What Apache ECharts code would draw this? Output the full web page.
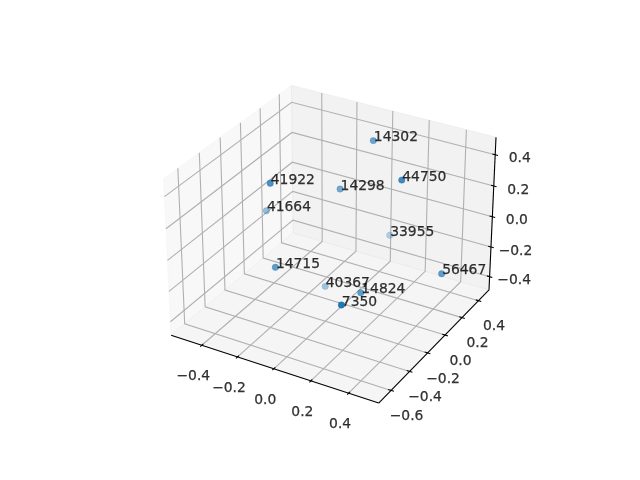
<!DOCTYPE html><html><head><meta charset="utf-8"><style>html,body{margin:0;background:#fff}#c{width:640px;height:480px}</style>
<script src="https://cdn.jsdelivr.net/npm/echarts@6/dist/echarts.min.js"></script></head><body><div id="c"></div><script>
var pointLabels=['14302','44750','14298','33955','41922','41664','14715','40367','14824','7350','56467'];
var xValues=[0.043,0.341,-0.072,-0.010,-0.217,-0.466,-0.173,-0.157,0.206,0.347,0.514];
var yValues=[0.227,-0.071,0.097,0.539,-0.347,0.051,-0.389,0.100,-0.223,-0.703,0.033];
var zValues=[0.476,0.467,0.195,-0.319,0.406,-0.052,-0.090,-0.482,-0.212,0.034,-0.121];
var xTicks=[-0.4,-0.2,0,0.2,0.4];
var yTicks=[-0.6,-0.4,-0.2,0,0.2,0.4];
var zTicks=[-0.4,-0.2,0,0.2,0.4];
var xLim=[-0.575,0.557],yLim=[-0.73,0.53],zLim=[-0.49,0.51];
var lims=[xLim,yLim,zLim];

// matplotlib-style 3D view: elev 30, azim -60, dist 10
var f=1.8294640721620434,nrm=Math.sqrt(41),A=[4*f/nrm,4*f/nrm,3*f/nrm];
var s3=Math.sqrt(3);
var N=[s3/4,-0.75,0.5],U=[s3/2,0.5,0],V=[-0.25,s3/4,s3/2];
function dot(a,b){return a[0]*b[0]+a[1]*b[1]+a[2]*b[2]}
function rel(p){return p.map(function(v,i){var l=lims[i],r=(l[1]-l[0])/(1+1/24);return (v-(l[0]+l[1])/2)/r*A[i]})}
function depth(p){return dot(rel(p),N)}
function proj(p){var c=rel(p),w=dot(c,N);return [dot(c,U)/(10-w),dot(c,V)/(10-w)]}
function fmt(v){var s=Math.abs(v).toFixed(1);return (v<0?'\u2212':'')+s}

var points=xValues.map(function(x,i){return [x,yValues[i],zValues[i]]});
var depths=points.map(depth),dMin=Math.min.apply(null,depths),dMax=Math.max.apply(null,depths);
var x0=xLim[0],x1=xLim[1],y0=yLim[0],y1=yLim[1],z0=zLim[0],z1=zLim[1];

var panes=[
 {c:[[x0,y0,z0],[x0,y1,z0],[x0,y1,z1],[x0,y0,z1]],fill:'rgba(242,242,242,0.5)'},
 {c:[[x0,y1,z0],[x1,y1,z0],[x1,y1,z1],[x0,y1,z1]],fill:'rgba(230,230,230,0.5)'},
 {c:[[x0,y0,z0],[x1,y0,z0],[x1,y1,z0],[x0,y1,z0]],fill:'rgba(236,236,236,0.5)'}
];
var grid=[];
xTicks.forEach(function(t){grid.push([[t,y0,z0],[t,y1,z0],[t,y1,z1]])});
yTicks.forEach(function(t){grid.push([[x1,t,z0],[x0,t,z0],[x0,t,z1]])});
zTicks.forEach(function(t){grid.push([[x0,y0,t],[x0,y1,t],[x1,y1,t]])});
var axes=[[[x0,y0,z0],[x1,y0,z0]],[[x1,y0,z0],[x1,y1,z0]],[[x1,y1,z0],[x1,y1,z1]]];
var tk=0.015;
xTicks.forEach(function(t){axes.push([[t,y0-tk,z0],[t,y0+tk,z0]])});
yTicks.forEach(function(t){axes.push([[x1-tk,t,z0],[x1+tk,t,z0]])});
zTicks.forEach(function(t){axes.push([[x1-tk,y1,t],[x1+tk,y1,t]])});

function shapes(list,build){return {type:'custom',silent:true,clip:false,coordinateSystem:'cartesian2d',
 data:list.map(function(_,i){return [0,0,i]}),encode:{x:0,y:1},
 renderItem:function(params,api){var it=list[params.dataIndex];return build(it,function(p){return api.coord(proj(p))})}}}
function line(color,w){return function(it,c){return {type:'polyline',shape:{points:it.map(c)},style:{stroke:color,lineWidth:w,fill:null}}}}
var font={fontFamily:'DejaVu Sans',fontSize:13.89,color:'#000',textBorderColor:'#000',textBorderWidth:0.25};
function tickLabels(ticks,at,off){return {type:'scatter',silent:true,symbolSize:1,itemStyle:{color:'transparent'},
 data:ticks.map(function(t){return {value:proj(at(t)),name:fmt(t)}}),
 label:Object.assign({show:true,position:'inside',offset:off,formatter:'{b}'},font)}}

var series=[
 shapes(panes,function(it,c){return {type:'polygon',shape:{points:it.c.map(c)},style:{fill:it.fill,stroke:it.fill,lineWidth:1}}}),
 shapes(grid,line('#b0b0b0',1.1)),
 shapes(axes,line('#000',1.1)),
 tickLabels(xTicks,function(t){return [t,y0,z0]},[-8.5,31.5]),
 tickLabels(yTicks,function(t){return [x1,t,z0]},[15.5,26]),
 tickLabels(zTicks,function(t){return [x1,y1,t]},[24.5,4]),
 {type:'scatter',silent:true,symbolSize:6.4,
  data:points.map(function(p,i){return {value:proj(p),itemStyle:{opacity:0.3+0.7*(depths[i]-dMin)/(dMax-dMin)}}}),
  itemStyle:{color:'#1f77b4',borderColor:'rgba(31,119,180,0.45)',borderWidth:1}},
 {type:'scatter',silent:true,symbolSize:1,itemStyle:{color:'transparent'},
  data:points.map(function(p,i){return {value:proj(p),name:pointLabels[i]}}),
  label:Object.assign({show:true,position:'right',distance:0,offset:[0,-3],formatter:'{b}'},font)}
];
var ch=echarts.init(document.getElementById('c'),null,{renderer:'canvas'});
ch.setOption({animation:false,backgroundColor:'#fff',
 grid:{left:143.2,top:52.8,width:369.6,height:369.6},
 xAxis:{type:'value',min:-0.095,max:0.09,show:false},
 yAxis:{type:'value',min:-0.093,max:0.092,show:false},
 series:series});
</script></body></html>
